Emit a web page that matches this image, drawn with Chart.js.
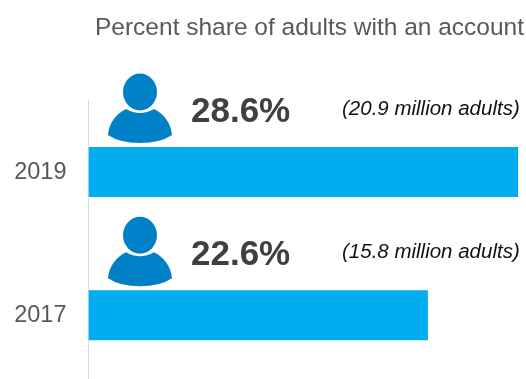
<!DOCTYPE html>
<html>
<head>
<meta charset="utf-8">
<title>Percent share of adults with an account</title>
<script src="https://cdn.jsdelivr.net/npm/chart.js@4/dist/chart.umd.min.js"></script>
<style>
    html, body { margin: 0; padding: 0; background: #fff; overflow: hidden; }
    #wrap { width: 526px; height: 379px; overflow: hidden; }
</style>
</head>
<body>
<div id="wrap"><canvas id="barChart" width="526" height="423" style="display:block"></canvas></div>
<script>
var years = ['2019', '2017'];
var shares = [28.6, 22.6];
var adults = ['(20.9 million adults)', '(15.8 million adults)'];

// person icon, big percentage and adult count above each bar
var barNotes = {
    id: 'barNotes',
    afterDatasetsDraw: function (chart) {
        var c = chart.ctx;
        chart.getDatasetMeta(0).data.forEach(function (bar, i) {
            var y = bar.y;
            c.save();

            c.fillStyle = '#0080c6';
            c.beginPath();
            c.moveTo(108, y - 37);
            c.bezierCurveTo(109, y - 49, 116, y - 58, 126, y - 63);
            c.quadraticCurveTo(140, y - 55, 154, y - 63);
            c.bezierCurveTo(164, y - 58, 171, y - 49, 172, y - 37);
            c.quadraticCurveTo(160, y - 29, 140, y - 29);
            c.quadraticCurveTo(120, y - 29, 108, y - 37);
            c.closePath();
            c.fill();

            c.beginPath();
            c.ellipse(140, y - 80, 19, 20, 0, 0, Math.PI * 2);
            c.fillStyle = '#ffffff';
            c.fill();
            c.beginPath();
            c.ellipse(140, y - 80, 17, 18.5, 0, 0, Math.PI * 2);
            c.fillStyle = '#0080c6';
            c.fill();

            c.textAlign = 'left';
            c.textBaseline = 'alphabetic';
            c.fillStyle = '#404040';
            c.font = 'bold 35px "Liberation Sans"';
            c.fillText(shares[i].toFixed(1) + '%', 191, y - 50);

            c.fillStyle = '#111111';
            c.font = 'italic 20.5px "Liberation Sans"';
            c.fillText(adults[i], 342, y - 57);
            c.restore();
        });
    }
};

var ctx = document.getElementById('barChart').getContext('2d');
var myChart = new Chart(ctx, {
    type: 'bar',
    data: {
        labels: years,
        datasets: [{
            data: shares,
            backgroundColor: '#00adef',
            borderWidth: 0,
            categoryPercentage: 1,
            barPercentage: 0.35
        }]
    },
    plugins: [barNotes],
    options: {
        indexAxis: 'y',
        responsive: false,
        maintainAspectRatio: false,
        animation: false,
        layout: {
            padding: {
                left: 0,
                right: 2,
                top: 0,
                bottom: 0
            }
        },
        scales: {
            x: {
                display: false,
                min: 0,
                max: 29
            },
            y: {
                afterFit: function (scale) {
                    scale.width = 88.5;
                },
                grid: {
                    display: false,
                    drawTicks: false
                },
                border: {
                    display: true,
                    color: '#d9d9d9',
                    width: 1
                },
                ticks: {
                    color: '#595959',
                    padding: 22,
                    font: {
                        family: '"Liberation Sans"',
                        size: 23.5
                    }
                }
            }
        },
        plugins: {
            legend: {
                display: false
            },
            tooltip: {
                enabled: false
            },
            title: {
                display: true,
                text: 'Percent share of adults with an account',
                align: 'end',
                color: '#595959',
                padding: {
                    top: 14,
                    bottom: 57
                },
                font: {
                    family: '"Liberation Sans"',
                    size: 24.5,
                    weight: 'normal'
                }
            }
        }
    }
});
</script>
</body>
</html>
